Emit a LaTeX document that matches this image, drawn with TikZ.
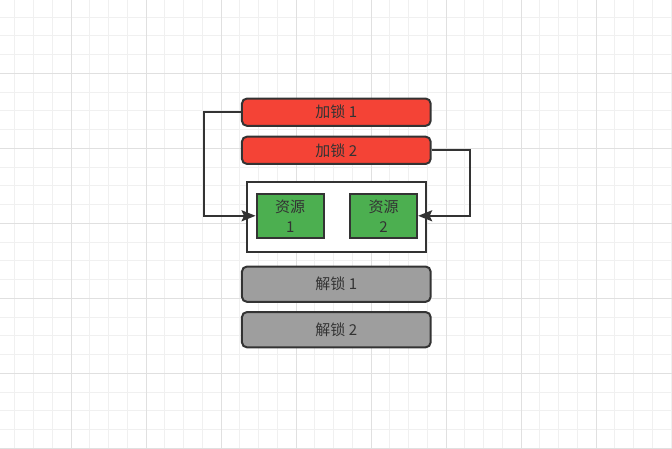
\documentclass[tikz,border=0pt]{standalone}
\usepackage{fontspec}
\newfontfamily\cjk{Noto Sans CJK SC}
\usetikzlibrary{arrows.meta}
\definecolor{edge}{HTML}{333333}
\definecolor{lockred}{HTML}{F44336}
\definecolor{resgreen}{HTML}{4CAF50}
\definecolor{freegray}{HTML}{9E9E9E}
\definecolor{gridminor}{HTML}{F0F0F0}
\definecolor{gridmajor}{HTML}{E0E0E0}

\begin{document}
\begin{tikzpicture}[x=1pt, y=-1pt,
    box/.style={draw=edge, line width=2pt, inner sep=0pt, text=edge,
        font=\cjk\fontsize{15}{20}\selectfont, align=center},
    lock/.style={box, rounded corners=5pt, fill=lockred, minimum width=188.7, minimum height=27.3},
    unlock/.style={box, rounded corners=5pt, fill=freegray, minimum width=188.7, minimum height=35.3},
    res/.style={box, fill=resgreen, minimum width=67.3, minimum height=44},
    link/.style={draw=edge, line width=2pt, -{Stealth[length=14pt, width=11pt, inset=2.5pt]}}]
    \useasboundingbox (0,0) rectangle (672,449);
    \fill[white] (0,0) rectangle (672,449);
    \foreach \i in {0,...,35} \draw[gridminor, line width=1pt] ({14.75+18.75*\i},0) -- ++(0,449);
    \foreach \j in {0,...,23} \draw[gridminor, line width=1pt] (0,{17.05+18.75*\j}) -- ++(672,0);
    \foreach \i in {0,...,8} \draw[gridmajor, line width=1pt] ({-4+75*\i},0) -- ++(0,449);
    \foreach \j in {0,...,5} \draw[gridmajor, line width=1pt] (0,{73.3+75*\j}) -- ++(672,0);

    \node[lock] (lock1) at (336.3,112.2) {加锁 1};
    \node[lock] (lock2) at (336.3,150.3) {加锁 2};
    \node[box, fill=white, minimum width=179.6, minimum height=70] (pool) at (336.5,216.7) {};
    \node[res] (res1) at (290.2,215.8) {资源\\1};
    \node[res] (res2) at (383.5,215.8) {资源\\2};
    \node[unlock] (unlock1) at (336.3,284.2) {解锁 1};
    \node[unlock] (unlock2) at (336.3,329.7) {解锁 2};

    \draw[link] (lock1.west) -- ++(-37,0) |- (res1.west);
    \draw[link] (lock2.east) -- ++(38,0) |- (res2.east);
\end{tikzpicture}
\end{document}
